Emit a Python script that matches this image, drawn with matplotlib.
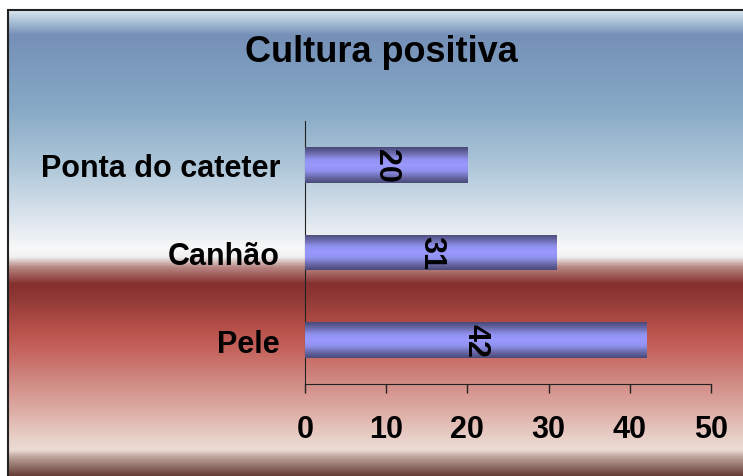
import numpy as np
import matplotlib
matplotlib.use('Agg')
import matplotlib.pyplot as plt
from matplotlib.colors import LinearSegmentedColormap
from matplotlib.patches import Rectangle

categories = ['Pele', 'Canhão', 'Ponta do cateter']
values = [42, 31, 20]
x_ticks = [0, 10, 20, 30, 40, 50]
title = 'Cultura positiva'

W, H = 743, 477
fig = plt.figure(figsize=(W / 100, H / 100), dpi=100)

# background gradient (pixel rows from top of the bordered area)
stops = [(11, '#d8e6f0'), (22, '#a8c0d4'), (35, '#7690b8'), (60, '#7a98bc'),
         (110, '#88aac6'), (170, '#b0c8da'), (210, '#d4e0ea'), (250, '#f8f8f8'),
         (258, '#f0f0f0'), (268, '#b88884'), (285, '#85302e'), (300, '#903a36'),
         (330, '#b8504a'), (350, '#c4625c'), (380, '#d08680'), (410, '#dcaaa2'),
         (440, '#e8d0c8'), (452, '#ecdcd4'), (458, '#c0a8a0'), (477, '#684038')]
y0, y1 = stops[0][0], stops[-1][0]
bg_cmap = LinearSegmentedColormap.from_list(
    'bg', [((p - y0) / (y1 - y0), c) for p, c in stops])
bg = fig.add_axes([8 / W, 0, 1 - 8 / W, (H - 11) / H], zorder=0)
bg.imshow(np.linspace(0, 1, 512).reshape(-1, 1), cmap=bg_cmap, aspect='auto',
          extent=[0, 1, 0, 1], origin='upper')
bg.set_xlim(0, 1)
bg.set_ylim(0, 1)
bg.axis('off')
fig.patches.append(Rectangle((8 / W, -0.01), 1.1, (H - 11) / H + 0.01,
                             transform=fig.transFigure, fill=False,
                             edgecolor='#222222', linewidth=1.5, zorder=5))

ax = fig.add_axes([305 / W, 1 - 385 / H, (711 - 305) / W, (385 - 122) / H], zorder=1)
ax.patch.set_alpha(0)

ypos = np.arange(len(categories))
bars = ax.barh(ypos, values, height=0.41, color='#9999ff', zorder=2)

bar_cmap = LinearSegmentedColormap.from_list(
    'bar', ['#484878', '#6a6aaa', '#9090ee', '#9999ff', '#9090ee', '#6a6aaa', '#484878'])
grad = np.linspace(0, 1, 256).reshape(-1, 1)
for b, v in zip(bars, values):
    x, y = b.get_x(), b.get_y()
    w, h = b.get_width(), b.get_height()
    im = ax.imshow(grad, cmap=bar_cmap, aspect='auto',
                   extent=[x, x + w, y, y + h], zorder=3)
    im.set_clip_path(b)
    ax.text(x + w / 2, y + h / 2, str(v), rotation=270, ha='center', va='center',
            fontsize=22, fontweight='bold', family='Liberation Sans', zorder=4)

ax.set_xlim(0, 50)
ax.set_ylim(-0.5, len(categories) - 0.5)
ax.set_xticks(x_ticks)
ax.set_yticks(ypos)
ax.set_yticklabels(categories)
for s in ['top', 'right']:
    ax.spines[s].set_visible(False)
ax.spines['left'].set_color('#222222')
ax.spines['bottom'].set_color('#222222')
ax.tick_params(axis='y', length=0, pad=18)
ax.tick_params(axis='x', length=6.5, width=1, color='#222222', pad=15)
for lab in ax.get_xticklabels() + ax.get_yticklabels():
    lab.set_fontsize(22)
    lab.set_fontweight('bold')
    lab.set_family('Liberation Sans')

fig.text(381 / W, 1 - 53 / H, title, ha='center', va='center', fontsize=26,
         fontweight='bold', family='Liberation Sans')

fig.savefig('out.png', dpi=100)
